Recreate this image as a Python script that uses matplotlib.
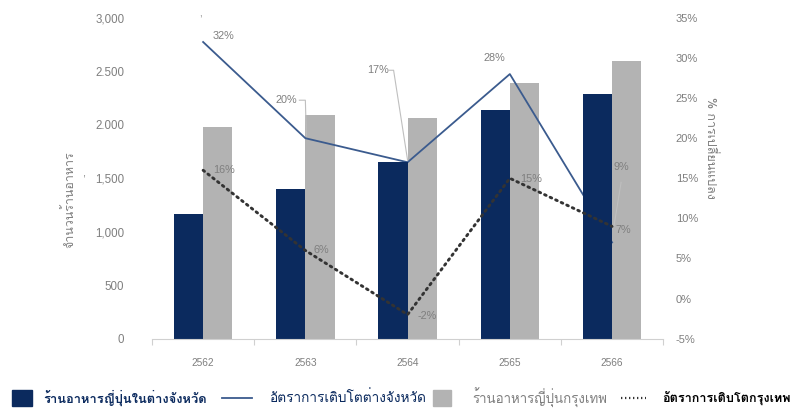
import matplotlib
matplotlib.use("Agg")
import matplotlib.pyplot as plt
from matplotlib import font_manager
from matplotlib.ft2font import FT2Font
from matplotlib.patches import Rectangle
from matplotlib.lines import Line2D
import numpy as np

# ---------------- data ----------------
years = ["2562", "2563", "2564", "2565", "2566"]
prov_restaurants = [1170, 1400, 1650, 2135, 2290]
bkk_restaurants = [1980, 2090, 2060, 2390, 2600]
prov_growth = [32, 20, 17, 28, 7]
bkk_growth = [16, 6, -2, 15, 9]
left_ticks = [0, 500, 1000, 1500, 2000, 2500, 3000]
left_tick_labels = ["0", "500", "1,000", "1,500", "2.000", "2.500", "3,000"]
right_ticks = [-5, 0, 5, 10, 15, 20, 25, 30, 35]
right_tick_labels = ["-5%", "0%", "5%", "10%", "15%", "20%", "25%", "30%", "35%"]
legend_labels = ["ร้านอาหารญี่ปุ่นในต่างจังหวัด", "อัตราการเติบโตต่างจังหวัด",
                 "ร้านอาหารญี่ปุ่นกรุงเทพ", "อัตราการเติบโตกรุงเทพ"]
left_label = "จำนวนร้านอาหาร"
right_label = "% การเปลี่ยนแปลง"

# ---------------- fonts ----------------
thai_font = None
for fe in font_manager.fontManager.ttflist:
    try:
        f = FT2Font(fe.fname)
        cm = f.get_charmap()
        if ord("ร") in cm and ord("ญ") in cm:
            thai_font = fe.name
            if fe.name == "Loma":
                break
    except Exception:
        pass
thai_family = ([thai_font] if thai_font else []) + ["DejaVu Sans"]
num_family = ["Liberation Sans", "DejaVu Sans"]
plt.rcParams["font.family"] = num_family

NAVY = "#0B2A5E"
GRAYBAR = "#B3B3B3"
BLUE = "#3B5B8E"
TXT = "#7F7F7F"
LEAD = "#BFBFBF"

fig = plt.figure(figsize=(8.0, 4.08), dpi=100)
ax = fig.add_axes([0.19, 0.17, 0.639, 0.786])
ax2 = ax.twinx()
ax.set_xlim(-0.5, len(years) - 0.5)
ax.set_ylim(0, 3000)
ax2.set_ylim(-5, 35)

x = np.arange(len(years))
w = 0.286
# drawing order: grey bars, provincial growth line, navy bars, Bangkok growth line
ax.bar(x + w / 2, bkk_restaurants, width=w, color=GRAYBAR, zorder=1.5)
ax.plot(x, prov_growth, color=BLUE, lw=1.3, zorder=2, transform=ax2.transData)
ax.bar(x - w / 2, prov_restaurants, width=w, color=NAVY, zorder=2.5)
ax.plot(x, bkk_growth, color="#333333", lw=2.1, linestyle=(0, (0.6, 1.5)),
        dash_capstyle="round", zorder=3, transform=ax2.transData)
ax.set_xlim(-0.5, len(years) - 0.5)
ax.set_ylim(0, 3000)

ax.set_yticks(left_ticks)
ax.set_yticklabels(left_tick_labels)
ax.set_xticks(x)
ax.set_xticklabels(years)
ax.set_xticks(np.arange(-0.5, len(years)), minor=True)
ax.tick_params(axis="x", which="major", length=0, pad=14, labelsize=7.3, labelcolor=TXT)
ax.tick_params(axis="x", which="minor", length=4, color="#D0D0D0", width=0.8)
ax.tick_params(axis="y", length=0, pad=20, labelsize=8.3, labelcolor=TXT)
for s in ["top", "left", "right"]:
    ax.spines[s].set_visible(False)
ax.spines["bottom"].set_color("#D0D0D0")
ax.spines["bottom"].set_linewidth(0.8)

ax2.set_yticks(right_ticks)
ax2.set_yticklabels(right_tick_labels)
ax2.tick_params(axis="y", length=0, pad=9, labelsize=8, labelcolor=TXT)
for s in ["top", "left", "right", "bottom"]:
    ax2.spines[s].set_visible(False)

# data labels (offsets in points)
p = 0.72
lab_kw = dict(textcoords="offset points", fontsize=7.8, color=TXT, va="center")
prov_offsets = [((9, 6), "left"), ((-8, 38), "right"),
                ((-19, 92), "right"), ((-15, 16), "center"),
                ((3, 12), "left")]
for i, v in enumerate(prov_growth):
    (dx, dy), ha = prov_offsets[i]
    ax2.annotate(f"{v}%", (x[i], v), xytext=(dx * p, dy * p), ha=ha, **lab_kw)
bkk_offsets = [((10, 0), "left"), ((8, 0), "left"), ((10, -1), "left"),
               ((10, -1), "left"), ((1, 59), "left")]
for i, v in enumerate(bkk_growth):
    (dx, dy), ha = bkk_offsets[i]
    ax2.annotate(f"{v}%", (x[i], v), xytext=(dx * p, dy * p), ha=ha, **lab_kw)

# leader lines (pixel offsets from data point)
def leader(xi, yv, pts):
    px, py = ax2.transData.transform((xi, yv))
    xs = [px + a for a, b in pts]
    ys = [py + b for a, b in pts]
    fig.add_artist(Line2D(np.array(xs) / 800, np.array(ys) / 408,
                          color=LEAD, lw=0.8, transform=fig.transFigure))

fig.canvas.draw()
leader(x[1], prov_growth[1], [(-6, 38), (0, 38), (1, 2)])
leader(x[2], prov_growth[2], [(-19, 92), (-14, 92), (0, 2)])
leader(x[4], bkk_growth[4], [(9, 44), (2, 1)])

# axis titles
fig.text(69 / 800, 1 - 200 / 408, left_label, rotation=90, ha="center", va="center",
         fontsize=9, color=TXT, family=thai_family)
fig.text(710 / 800, 1 - 148 / 408, right_label, rotation=-90, ha="center", va="center",
         fontsize=9, color=TXT, family=thai_family)
fig.text(84 / 800, 1 - 173 / 408, ",", fontsize=8, color=TXT, ha="center", va="center")
fig.text(200 / 800, 1 - 14 / 408, ",", fontsize=7, color=TXT, ha="center", va="center")

# legend (manual)
ly = 1 - 398 / 408
fig.add_artist(Rectangle((12 / 800, 1 - 406 / 408), 20 / 800, 16 / 408,
                         color=NAVY, transform=fig.transFigure))
fig.text(43 / 800, ly, legend_labels[0], ha="left", va="center", fontsize=9.3,
         color=NAVY, family=thai_family, fontweight="bold")
fig.add_artist(Line2D([222 / 800, 252 / 800], [ly, ly], color=BLUE, lw=1.3,
                      transform=fig.transFigure))
fig.text(270 / 800, ly, legend_labels[1], ha="left", va="center", fontsize=9.8,
         color=NAVY, family=thai_family)
fig.add_artist(Rectangle((433 / 800, 1 - 406 / 408), 18 / 800, 16 / 408,
                         color=GRAYBAR, transform=fig.transFigure))
fig.text(472 / 800, ly, legend_labels[2], ha="left", va="center", fontsize=9.6,
         color=TXT, family=thai_family)
fig.add_artist(Line2D([621 / 800, 646 / 800], [ly, ly], color="#333333", lw=1.6,
                      linestyle=(0, (0.6, 1.2)), transform=fig.transFigure))
fig.text(662 / 800, ly, legend_labels[3], ha="left", va="center", fontsize=9.1,
         color="black", family=thai_family, fontweight="bold")

fig.savefig("out.png", dpi=100)
